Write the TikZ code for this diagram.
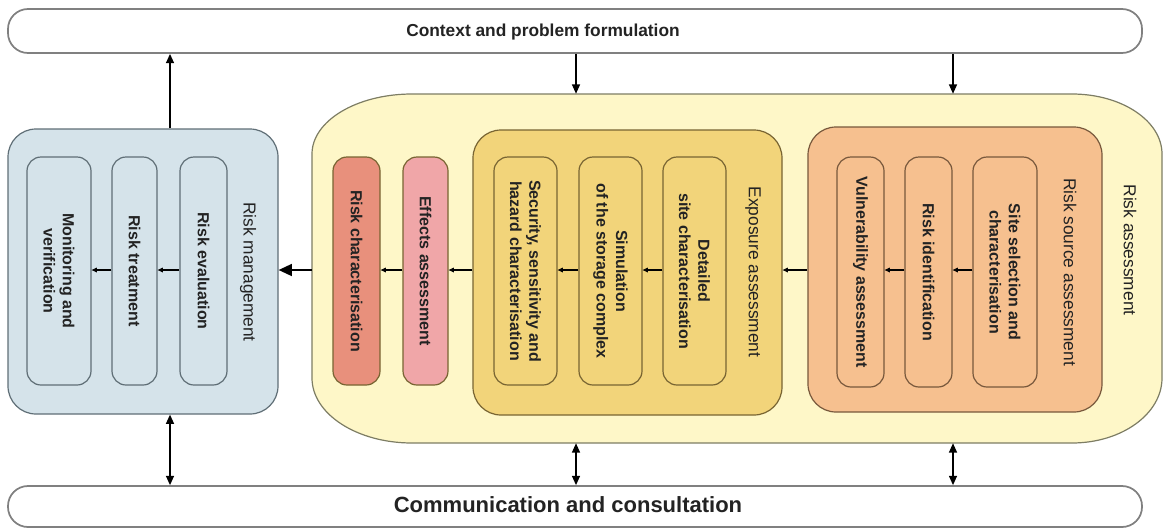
\documentclass[tikz,border=0pt]{standalone}
\usepackage{fontspec}
\setmainfont{Liberation Sans}
\usetikzlibrary{arrows.meta,fit,calc}
\definecolor{rmfill}{RGB}{213,227,234}
\definecolor{rmline}{RGB}{95,110,118}
\definecolor{rafill}{RGB}{254,247,200}
\definecolor{raline}{RGB}{125,125,100}
\definecolor{exfill}{RGB}{242,212,122}
\definecolor{exline}{RGB}{120,100,50}
\definecolor{orfill}{RGB}{246,192,143}
\definecolor{orline}{RGB}{120,88,60}
\definecolor{rcfill}{RGB}{232,144,124}
\definecolor{effill}{RGB}{240,166,168}
\definecolor{txt}{RGB}{35,35,35}
\begin{document}
\begin{tikzpicture}[x=0.75pt,y=-0.75pt,
 box/.style={draw, line width=0.9pt, inner sep=0pt, rounded corners=10.5pt},
 bigbox/.style={draw, line width=0.9pt, inner sep=0pt, rounded corners=21pt},
 bar/.style={draw=black!50, line width=1.3pt, fill=white, inner sep=0pt, rounded corners=15pt},
 itxt/.style={rotate=-90, align=center, text=txt, font=\bfseries\fontsize{12}{14.5}\selectfont},
 ltxt/.style={rotate=-90, text=txt, font=\fontsize{13}{15}\selectfont},
 conn/.style={line width=0.8pt, -{Triangle[length=4pt,width=3.5pt]}},
 vconn/.style={line width=1.1pt, -{Triangle[length=7pt,width=6pt]}},
 dconn/.style={line width=1.1pt, {Triangle[length=7pt,width=6pt]}-{Triangle[length=7pt,width=6pt]}},
 bigconn/.style={line width=1.3pt, -{Triangle[length=10pt,width=9pt]}},
]
\useasboundingbox (0,0) rectangle (1164,529);

% top and bottom bars
\node[bar, fit={(8,9) (1142,53)}] (top) {};
\node[text=txt, font=\bfseries\fontsize{13}{15}\selectfont] (toptxt) at ($(top.center)+(-32,1)$) {Context and problem formulation};
\node[bar, fit={(8,486) (1142,527)}] (bot) {};
\node[text=txt, font=\bfseries\fontsize{16.5}{18}\selectfont] (bottxt) at ($(bot.center)+(-7,-2)$) {Communication and consultation};

% risk assessment (big yellow shape)
\draw[fill=rafill, draw=raline, line width=0.9pt]
  (312,154) arc[start angle=180,end angle=270,x radius=100,y radius=60]
  -- (1072,94) arc[start angle=270,end angle=360,x radius=90,y radius=60]
  -- (1162,378) arc[start angle=0,end angle=90,x radius=90,y radius=65]
  -- (412,443) arc[start angle=90,end angle=180,x radius=100,y radius=65]
  -- cycle;
\node[inner sep=0pt, fit={(312,94) (1162,443)}] (ra) {};
\node[ltxt] (ralbl) at (1130,250) {Risk assessment};

% risk management
\node[bigbox, draw=rmline, fill=rmfill, fit={(8,129) (278,414)}] (rm) {};
\node[box, draw=rmline, fill=rmfill, fit={(27,157) (91,385)}] (mon) {};
\node[box, draw=rmline, fill=rmfill, fit={(112,157) (157,385)}] (treat) {};
\node[box, draw=rmline, fill=rmfill, fit={(180,157) (227,385)}] (eval) {};
\node[itxt] at (mon.center) {Monitoring and\\verification};
\node[itxt] at (treat.center) {Risk treatment};
\node[itxt] at (eval.center) {Risk evaluation};
\node[ltxt] (rmlbl) at (248,272) {Risk management};

% risk characterisation and effects
\node[box, draw=exline, fill=rcfill, fit={(333,157) (380,385)}] (rc) {};
\node[box, draw=exline, fill=effill, fit={(403,157) (448,385)}] (eff) {};
\node[itxt] at (rc.center) {Risk characterisation};
\node[itxt] at (eff.center) {Effects assessment};

% exposure assessment
\node[bigbox, draw=exline, fill=exfill, fit={(473,130) (782,415)}] (exp) {};
\node[box, draw=exline, fill=exfill, fit={(494,157) (557,385)}] (sec) {};
\node[box, draw=exline, fill=exfill, fit={(579,157) (642,385)}] (sim) {};
\node[box, draw=exline, fill=exfill, fit={(663,157) (726,385)}] (det) {};
\node[itxt] at (sec.center) {Security, sensitivity and\\hazard characterisation};
\node[itxt] at (sim.center) {Simulation\\of the storage complex};
\node[itxt] at (det.center) {Detailed\\site characterisation};
\node[ltxt] (exlbl) at (753,272) {Exposure assessment};

% risk source assessment
\node[bigbox, draw=orline, fill=orfill, fit={(808,127) (1102,412)}] (rsa) {};
\node[box, draw=orline, fill=orfill, fit={(837,157) (884,387)}] (vul) {};
\node[box, draw=orline, fill=orfill, fit={(905,157) (952,387)}] (rid) {};
\node[box, draw=orline, fill=orfill, fit={(973,157) (1037,387)}] (ssc) {};
\node[itxt] at (vul.center) {Vulnerability assessment};
\node[itxt] at (rid.center) {Risk identification};
\node[itxt] at (ssc.center) {Site selection and\\characterisation};
\node[ltxt] (rsalbl) at (1070,272) {Risk source assessment};

% vertical connectors
\coordinate (c1) at (170,0);
\coordinate (c2) at (576,0);
\coordinate (c3) at (953,0);
\draw[vconn] (c1 |- rm.north) -- (c1 |- top.south);
\draw[vconn] (c2 |- top.south) -- (c2 |- ra.north);
\draw[vconn] (c3 |- top.south) -- (c3 |- ra.north);
\draw[dconn] (c1 |- rm.south) -- (c1 |- bot.north);
\draw[dconn] (c2 |- ra.south) -- (c2 |- bot.north);
\draw[dconn] (c3 |- ra.south) -- (c3 |- bot.north);

% horizontal connectors
\coordinate (h) at (0,270);
\draw[bigconn] (h -| ra.west) -- (h -| rm.east);
\draw[conn] (h -| eval.west) -- (h -| treat.east);
\draw[conn] (h -| treat.west) -- (h -| mon.east);
\draw[conn] (h -| exp.west) -- (h -| eff.east);
\draw[conn] (h -| eff.west) -- (h -| rc.east);
\draw[conn] (h -| det.west) -- (h -| sim.east);
\draw[conn] (h -| sim.west) -- (h -| sec.east);
\draw[conn] (h -| rsa.west) -- (h -| exp.east);
\draw[conn] (h -| ssc.west) -- (h -| rid.east);
\draw[conn] (h -| rid.west) -- (h -| vul.east);
\end{tikzpicture}
\end{document}
